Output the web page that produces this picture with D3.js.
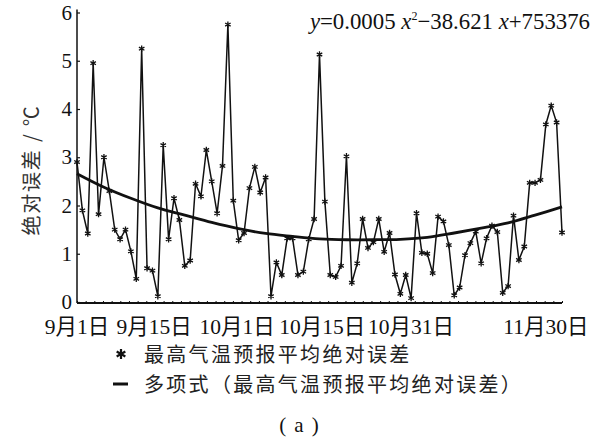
<!DOCTYPE html>
<html>
<head>
<meta charset="utf-8">
<script src="https://cdn.jsdelivr.net/npm/d3@7"></script>
<style>
  html, body { margin: 0; padding: 0; background: #fff; }
  svg { display: block; }
</style>
</head>
<body>
<svg id="chart" width="603" height="444"></svg>
<script>
// ---- data ----
// daily max-temperature forecast mean absolute error, 9月1日 .. 11月30日 (91 days)
const errorValues = [
  2.9, 1.9, 1.42, 4.95, 1.82, 3.0, 2.3, 1.5, 1.3, 1.5,
  1.05, 0.48, 5.25, 0.7, 0.65, 0.12, 3.25, 1.3, 2.15, 1.7,
  0.75, 0.86, 2.45, 2.19, 3.15, 2.5, 1.84, 2.82, 5.75, 2.1,
  1.28, 1.43, 2.36, 2.8, 2.27, 2.58, 0.12, 0.82, 0.56, 1.32,
  1.32, 0.56, 0.63, 1.3, 1.72, 5.13, 2.08, 0.56, 0.52, 0.75,
  3.02, 0.4, 0.8, 1.72, 1.12, 1.24, 1.72, 1.04, 1.43, 0.57,
  0.17, 0.56, 0.08, 1.84, 1.02, 1.0, 0.6, 1.77, 1.67, 1.18,
  0.14, 0.3, 0.97, 1.22, 1.46, 0.8, 1.32, 1.58, 1.45, 0.19,
  0.33, 1.79, 0.87, 1.15, 2.47, 2.47, 2.53, 3.68, 4.07, 3.72,
  1.44
];
// polynomial trend, read every 5 days
const trendDays   = [0, 5, 10, 15, 20, 25, 30, 35, 40, 45, 50, 55, 60, 65, 70, 75, 80, 85, 90];
const trendValues = [2.66, 2.38, 2.15, 1.95, 1.80, 1.65, 1.52, 1.42, 1.36, 1.31, 1.29, 1.29, 1.30, 1.34, 1.43, 1.53, 1.64, 1.80, 1.97];
// label positions (in days from 9月1日) as they sit in the reference
const xTickDays   = [0, 14.3, 29.7, 45.5, 62, 87];
const xTickLabels = ["9月1日", "9月15日", "10月1日", "10月15日", "10月31日", "11月30日"];
const yTicks      = [0, 1, 2, 3, 4, 5, 6];
const legendLabels = ["最高气温预报平均绝对误差", "多项式（最高气温预报平均绝对误差）"];
const yAxisTitle  = "绝对误差 / ℃";
const caption     = "(a)";

// ---- layout ----
const svg = d3.select("#chart");
const plotL = 77, plotR = 562, plotT = 12.5, plotB = 302;
const ink = "#111";
const serif = "'Liberation Serif', 'Times New Roman', 'Noto Sans CJK SC', serif";
const cjk = "'Noto Sans CJK SC', 'Liberation Serif', sans-serif";
const mixed = "'Liberation Serif', 'Noto Sans CJK SC', serif";

const x = d3.scaleLinear().domain([0, 90]).range([plotL, plotR]);
const y = d3.scaleLinear().domain([0, 6]).range([plotB, plotT]);

svg.append("rect").attr("width", 603).attr("height", 444).attr("fill", "#fff");

// y axis
const yAxis = d3.axisLeft(y).tickValues(yTicks).tickSize(-3).tickPadding(5).tickFormat(d3.format("d"));
const gy = svg.append("g").attr("transform", `translate(${plotL},0)`).call(yAxis);
gy.select(".domain").attr("d", `M0,${plotT - 3}V${plotB + 1}`).attr("stroke", ink).attr("stroke-width", 1.5);
gy.selectAll(".tick line").attr("stroke", ink).attr("stroke-width", 1.2);
gy.selectAll(".tick text").attr("font-family", serif).attr("font-size", 21).attr("fill", ink);

// x axis
const minorTicks = d3.range(0, 57).map(i => i * 90 / 56);
const xAxis = d3.axisBottom(x).tickValues(minorTicks).tickSize(-2).tickFormat("");
const gx = svg.append("g").attr("transform", `translate(0,${plotB + 1})`).call(xAxis);
gx.select(".domain").attr("d", `M${plotL},0H${plotR}`).attr("stroke", ink).attr("stroke-width", 2);
gx.selectAll(".tick line").attr("stroke", ink).attr("stroke-width", 1);

// x tick labels
svg.append("g").selectAll("text")
  .data(xTickDays)
  .join("text")
  .attr("x", d => x(d))
  .attr("y", 334)
  .attr("text-anchor", "middle")
  .attr("font-family", mixed)
  .attr("font-size", 21.5)
  .attr("fill", ink)
  .text((d, i) => xTickLabels[i]);

// y axis title
svg.append("text")
  .attr("transform", `translate(39,170) rotate(-90)`)
  .attr("text-anchor", "middle")
  .attr("font-family", cjk)
  .attr("font-size", 20)
  .attr("letter-spacing", 1.8)
  .attr("fill", "#333")
  .text(yAxisTitle);

// trend line
const trendLine = d3.line().x((d, i) => x(trendDays[i])).y(d => y(d)).curve(d3.curveCatmullRom);
svg.append("path")
  .datum(trendValues)
  .attr("d", trendLine)
  .attr("fill", "none")
  .attr("stroke", ink)
  .attr("stroke-width", 2.8);

// data line
const dataLine = d3.line().x((d, i) => x(i)).y(d => y(d));
svg.append("path")
  .datum(errorValues)
  .attr("d", dataLine)
  .attr("fill", "none")
  .attr("stroke", ink)
  .attr("stroke-width", 1.5);

// markers
const star = d3.symbol().type(d3.symbolAsterisk).size(28);
svg.append("g").selectAll("path")
  .data(errorValues)
  .join("path")
  .attr("transform", (d, i) => `translate(${x(i)},${y(d)})`)
  .attr("d", star)
  .attr("fill", "none")
  .attr("stroke", ink)
  .attr("stroke-width", 1.3);

// equation
const eq = svg.append("text")
  .attr("x", 590).attr("y", 29)
  .attr("text-anchor", "end")
  .attr("font-family", serif)
  .attr("font-size", 22.8)
  .attr("fill", ink);
eq.append("tspan").attr("font-style", "italic").text("y");
eq.append("tspan").text("=0.0005 ");
eq.append("tspan").attr("font-style", "italic").text("x");
eq.append("tspan").attr("font-size", 12).attr("dy", -9).text("2");
eq.append("tspan").attr("dy", 9).text("\u221238.621 ");
eq.append("tspan").attr("font-style", "italic").text("x");
eq.append("tspan").text("+753376");

// legend
const lg = svg.append("g");
lg.append("path")
  .attr("transform", "translate(121,354)")
  .attr("d", d3.symbol().type(d3.symbolAsterisk).size(70)())
  .attr("stroke", ink).attr("stroke-width", 2.2).attr("fill", "none");
lg.append("line")
  .attr("x1", 113).attr("x2", 128).attr("y1", 384).attr("y2", 384)
  .attr("stroke", ink).attr("stroke-width", 3);
lg.selectAll("text")
  .data(legendLabels)
  .join("text")
  .attr("x", 144)
  .attr("y", (d, i) => 362 + i * 30)
  .attr("font-family", cjk)
  .attr("font-size", 20)
  .attr("letter-spacing", 2.3)
  .attr("fill", "#222")
  .text(d => d);

// caption
svg.append("text")
  .attr("x", 303).attr("y", 432)
  .attr("text-anchor", "middle")
  .attr("font-family", serif)
  .attr("font-size", 21)
  .attr("letter-spacing", 8)
  .attr("fill", ink)
  .text(caption);
</script>
</body>
</html>
